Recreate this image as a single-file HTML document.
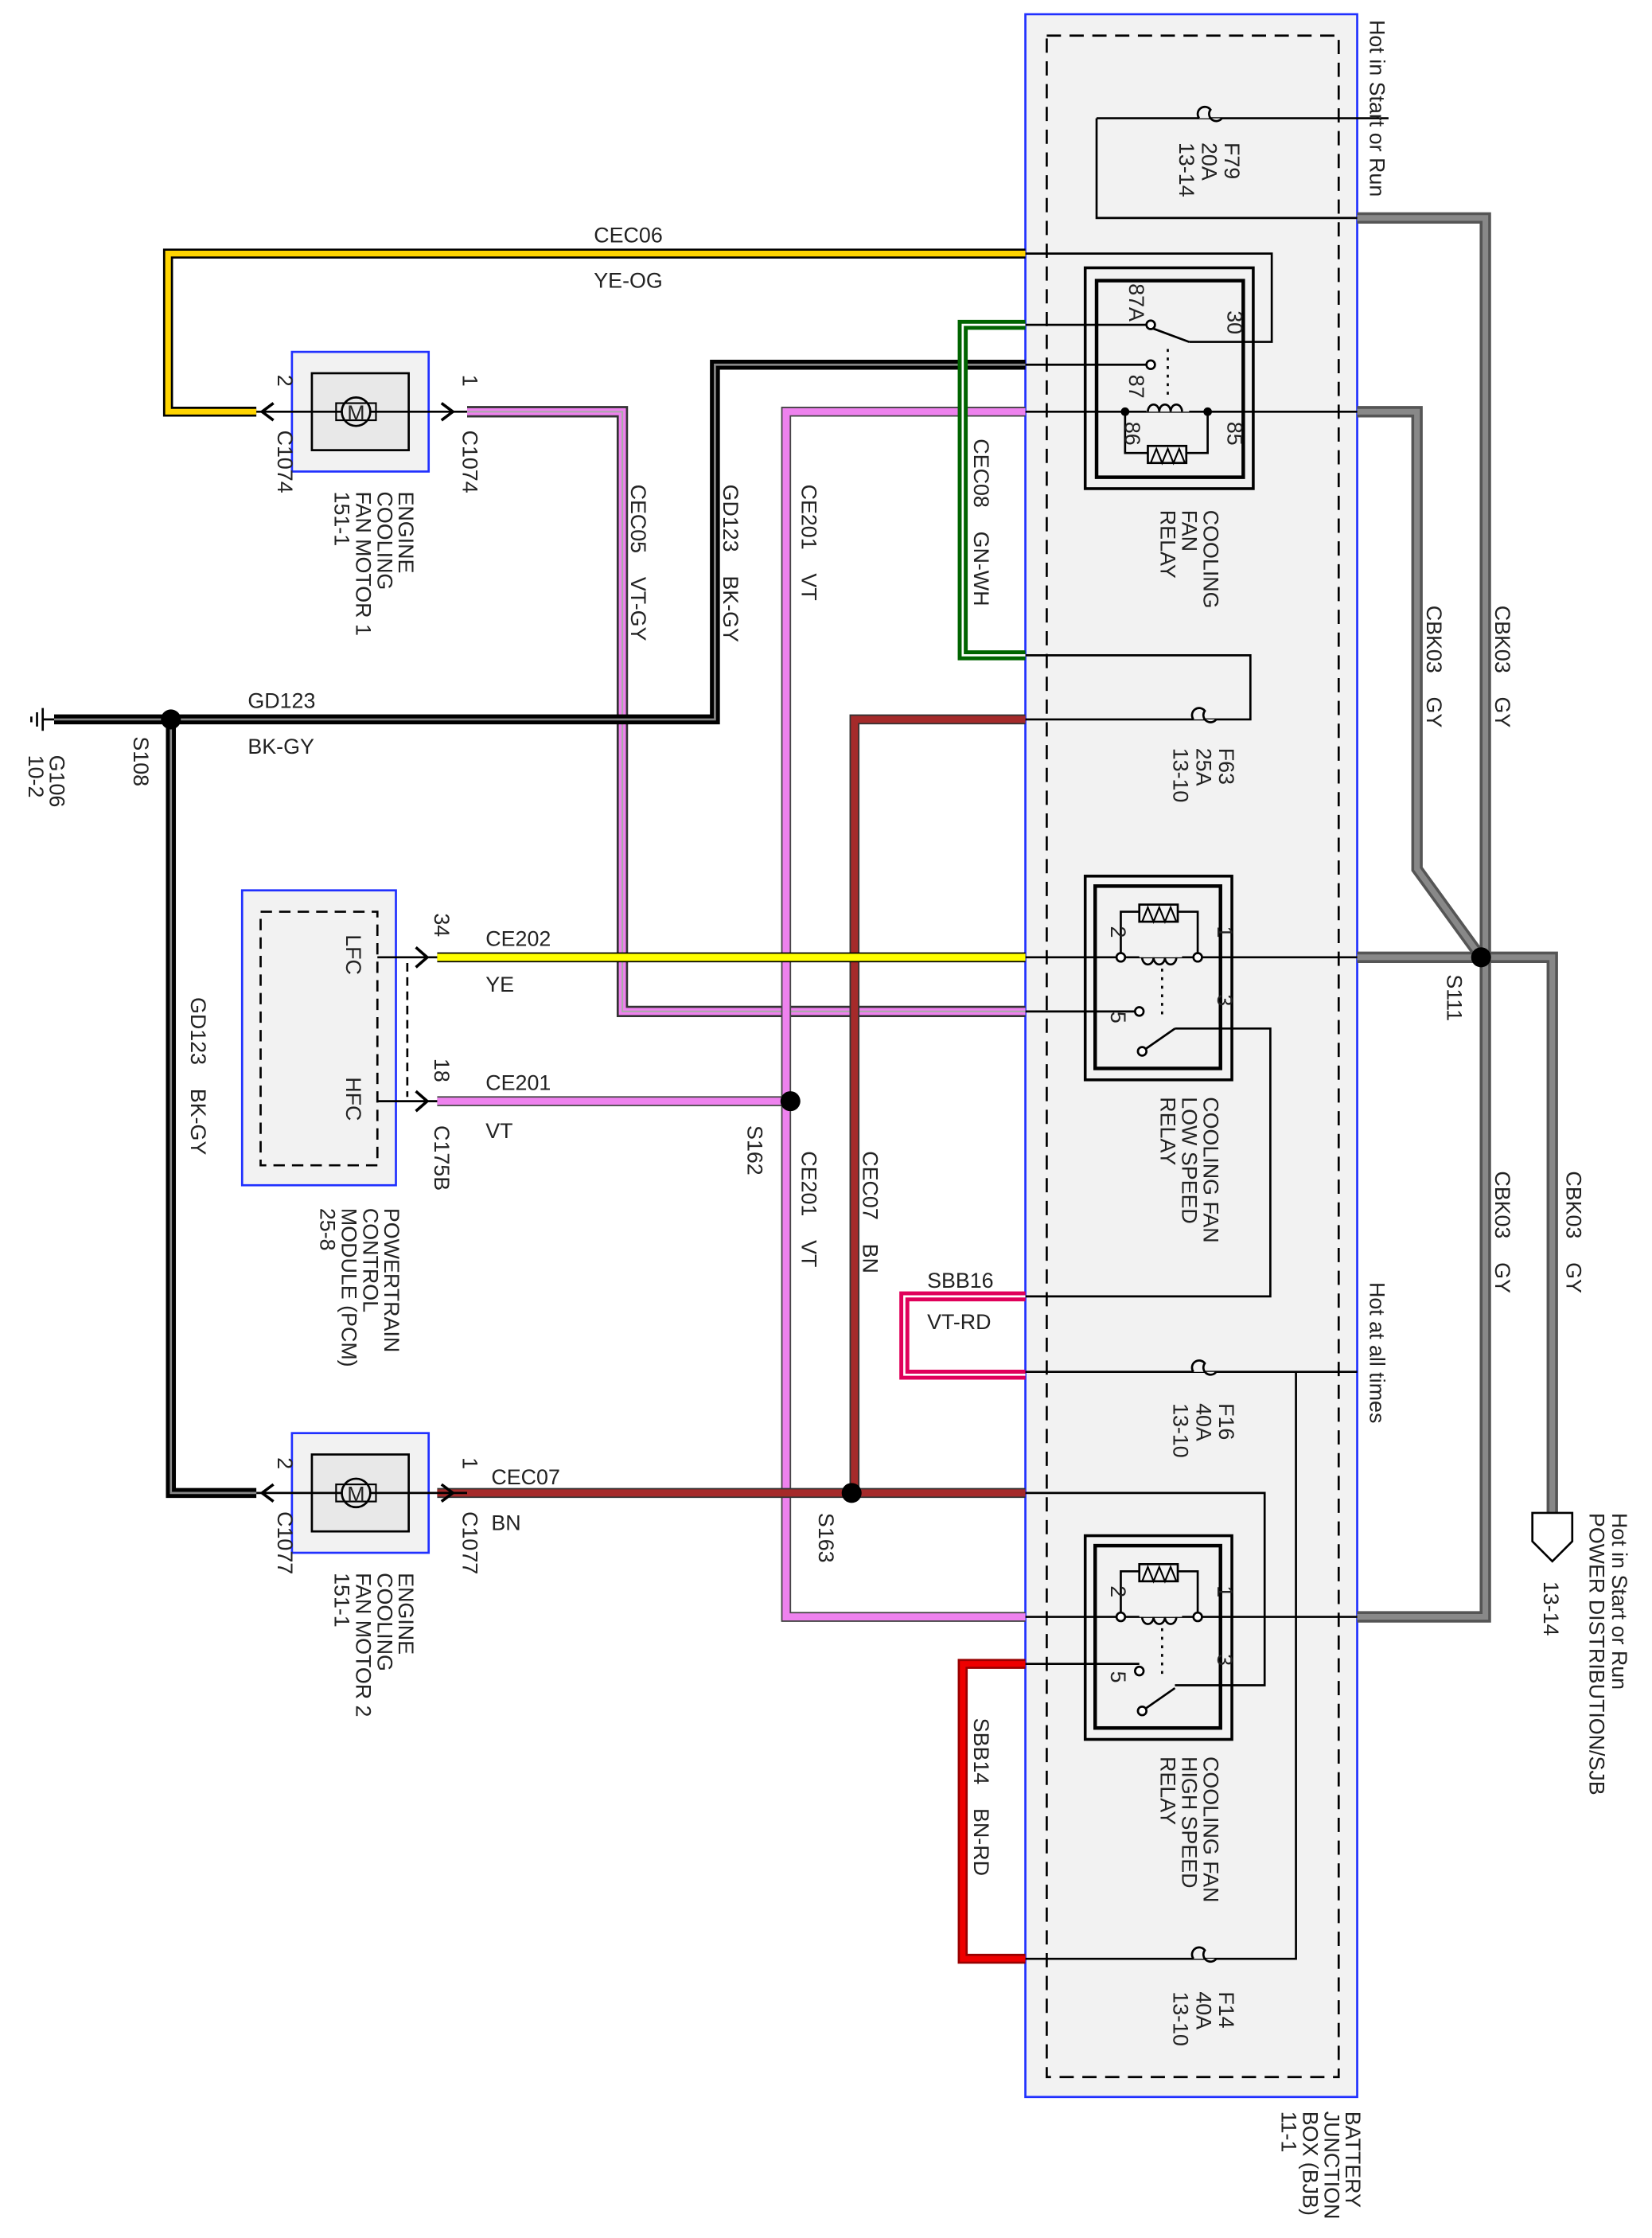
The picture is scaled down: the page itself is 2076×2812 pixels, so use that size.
<!DOCTYPE html>
<html><head><meta charset="utf-8"><style>
html,body{margin:0;padding:0;background:#fff;}
svg{display:block;}
text{font-family:"Liberation Sans",sans-serif;font-size:15px;fill:#222;white-space:pre;}
</style></head><body>
<svg width="2076" height="2812" viewBox="0 0 1160 1571" preserveAspectRatio="none" xmlns="http://www.w3.org/2000/svg">
<rect width="1160" height="1571" fill="#fff"/>
<!-- BJB box -->
<rect x="720" y="10" width="233" height="1462" fill="#f2f2f2" stroke="#2030ff" stroke-width="1.5"/>
<rect x="735" y="25" width="205" height="1433" fill="none" stroke="#000" stroke-width="1.5" stroke-dasharray="10,6"/>

<g fill="none" stroke="#555" stroke-width="8" stroke-linejoin="miter">
<polyline points="953,153 1043,153 1043,1135 953,1135"/>
<polyline points="953,289 995,289 995,610 1040,672"/>
<polyline points="953,672 1090,672 1090,1062"/>
</g>
<g fill="none" stroke="#888" stroke-width="4">
<polyline points="953,153 1043,153 1043,1135 953,1135"/>
<polyline points="953,289 995,289 995,610 1040,672"/>
<polyline points="953,672 1090,672 1090,1062"/>
</g>
<circle cx="1040" cy="672" r="7" fill="#000"/>
<path d="M1076,1062 h28 v20 l-14,14 l-14,-14z" fill="#fff" stroke="#000" stroke-width="1.5"/>

<g fill="none" stroke="#000" stroke-width="1.5">
<polyline points="770,83 953,83"/>
<line x1="953" y1="83" x2="975" y2="83"/>
<polyline points="770,83 770,153 953,153"/>
<polyline points="720,178 893,178 893,240 835,240"/>
<line x1="720" y1="228" x2="808" y2="228"/>
<line x1="720" y1="256" x2="808" y2="256"/>
<line x1="720" y1="289" x2="953" y2="289"/>
<polyline points="720,460 878,460 878,505 720,505"/>
<line x1="720" y1="672" x2="953" y2="672"/>
<line x1="720" y1="710" x2="800" y2="710"/>
<polyline points="720,910 892,910 892,722 825,722"/>
<line x1="720" y1="963" x2="953" y2="963"/>
<polyline points="720,1048 888,1048 888,1183 825,1183"/>
<line x1="720" y1="1135" x2="953" y2="1135"/>
<line x1="720" y1="1168" x2="800" y2="1168"/>
<polyline points="720,1375 910,1375 910,963"/>
</g>
<g fill="#f2f2f2" stroke="#000" stroke-width="1.5">
<path d="M842,83 a5,5 0 0 1 8,-6 a5,5 0 0 0 8,6"/>
<path d="M838,505 a5,5 0 0 1 8,-6 a5,5 0 0 0 8,6"/>
<path d="M838,963 a5,5 0 0 1 8,-6 a5,5 0 0 0 8,6"/>
<path d="M838,1375 a5,5 0 0 1 8,-6 a5,5 0 0 0 8,6"/>
</g>

<g fill="none" stroke="#000">
<rect x="762" y="188" width="118" height="155" stroke-width="2"/>
<rect x="770" y="197" width="103" height="138" stroke-width="2.5"/>
<line x1="808" y1="230" x2="835" y2="240" stroke-width="1.5"/>
<line x1="820" y1="245" x2="820" y2="278" stroke-width="1.5" stroke-dasharray="2,4"/>
<polyline points="790,289 790,318 848,318 848,289" stroke-width="1.5"/>
<rect x="806" y="313" width="27" height="12" fill="#f2f2f2" stroke-width="1.5"/>
<polyline points="808,325 812,315 816,325 820,315 824,325 828,315 832,325" stroke-width="1.2"/>
</g>
<rect x="805" y="281" width="30" height="8" fill="#f2f2f2"/>
<path d="M806,289 a4,5 0 0 1 8,0 a4,5 0 0 1 8,0 a4,5 0 0 1 8,0" fill="none" stroke="#000" stroke-width="1.5"/>
<circle cx="808" cy="228" r="3" fill="#fff" stroke="#000" stroke-width="1.5"/>
<circle cx="808" cy="256" r="3" fill="#fff" stroke="#000" stroke-width="1.5"/>
<circle cx="790" cy="289" r="3" fill="#000"/><circle cx="848" cy="289" r="3" fill="#000"/>

<g id="r2" fill="none" stroke="#000">
<rect x="762" y="615" width="103" height="143" stroke-width="2"/>
<rect x="769" y="622" width="88" height="128" stroke-width="2.5"/>
<polyline points="787,672 787,640 841,640 841,672" stroke-width="1.5"/>
<rect x="800" y="635" width="27" height="12" fill="#f2f2f2" stroke-width="1.5"/>
<polyline points="802,647 806,637 810,647 814,637 818,647 822,637 826,647" stroke-width="1.2"/>
<line x1="816" y1="680" x2="816" y2="715" stroke-width="1.5" stroke-dasharray="2,4"/>
<line x1="802" y1="738" x2="825" y2="722" stroke-width="1.5"/>
<circle cx="800" cy="710" r="3" fill="#fff" stroke-width="1.5"/>
<circle cx="802" cy="738" r="3" fill="#fff" stroke-width="1.5"/>
<circle cx="787" cy="672" r="3" fill="#fff" stroke-width="1.5"/>
<circle cx="841" cy="672" r="3" fill="#fff" stroke-width="1.5"/>
<rect x="800" y="665" width="30" height="7" fill="#f2f2f2" stroke="none"/>
<path d="M802,672 a4,5 0 0 0 8,0 a4,5 0 0 0 8,0 a4,5 0 0 0 8,0" stroke-width="1.5"/>
</g>
<use href="#r2" transform="translate(0,463)"/>

<g fill="none" stroke-linejoin="miter">
<polyline points="720,178 118,178 118,289 180,289" stroke="#000" stroke-width="7"/>
<polyline points="720,178 118,178 118,289 180,289" stroke="#ffd400" stroke-width="4"/>
<polyline points="328,289 437,289 437,710 720,710" stroke="#333" stroke-width="8"/>
<polyline points="328,289 437,289 437,710 720,710" stroke="#ee82ee" stroke-width="5"/>
<polyline points="328,289 437,289 437,710 720,710" stroke="#aaa" stroke-width="1.2"/>
<polyline points="720,256 502,256 502,505 38,505" stroke="#000" stroke-width="7"/>
<polyline points="720,256 502,256 502,505 38,505" stroke="#888" stroke-width="1.5"/>
<polyline points="120,505 120,1048 180,1048" stroke="#000" stroke-width="7"/>
<polyline points="120,505 120,1048 180,1048" stroke="#888" stroke-width="1.5"/>
<polyline points="720,289 552,289 552,1135 720,1135" stroke="#444" stroke-width="7"/>
<polyline points="720,289 552,289 552,1135 720,1135" stroke="#ee82ee" stroke-width="5"/>
<line x1="307" y1="773" x2="555" y2="773" stroke="#444" stroke-width="7"/>
<line x1="307" y1="773" x2="555" y2="773" stroke="#ee82ee" stroke-width="5"/>
<polyline points="720,228 676,228 676,460 720,460" stroke="#006400" stroke-width="7"/>
<polyline points="720,228 676,228 676,460 720,460" stroke="#fff" stroke-width="1.5"/>
<polyline points="720,505 600,505 600,1048" stroke="#333" stroke-width="7"/>
<polyline points="720,505 600,505 600,1048" stroke="#a52a2a" stroke-width="5"/>
<line x1="307" y1="1048" x2="720" y2="1048" stroke="#333" stroke-width="7"/>
<line x1="307" y1="1048" x2="720" y2="1048" stroke="#a52a2a" stroke-width="5"/>
<line x1="307" y1="672" x2="720" y2="672" stroke="#000" stroke-width="7"/>
<line x1="307" y1="672" x2="720" y2="672" stroke="#ffff00" stroke-width="5"/>
<polyline points="720,910 635,910 635,965 720,965" stroke="#e0005a" stroke-width="7"/>
<polyline points="720,910 635,910 635,965 720,965" stroke="#fff" stroke-width="1.5"/>
<polyline points="720,1168 676,1168 676,1375 720,1375" stroke="#900" stroke-width="7"/>
<polyline points="720,1168 676,1168 676,1375 720,1375" stroke="#e00" stroke-width="4"/>
</g>
<circle cx="120" cy="505" r="7" fill="#000"/>
<circle cx="555" cy="773" r="7" fill="#000"/>
<circle cx="598" cy="1048" r="7" fill="#000"/>
<g stroke="#000" stroke-width="1.5"><line x1="30" y1="505" x2="38" y2="505"/><line x1="30" y1="497" x2="30" y2="513"/><line x1="26" y1="500" x2="26" y2="510"/><line x1="22" y1="503" x2="22" y2="507"/></g>

<g id="mot">
<rect x="205" y="247" width="96" height="84" fill="#f2f2f2" stroke="#2030ff" stroke-width="1.5"/>
<rect x="219" y="262" width="68" height="54" fill="#e8e8e8" stroke="#000" stroke-width="1.5"/>
<line x1="180" y1="289" x2="328" y2="289" stroke="#000" stroke-width="1.5"/>
<circle cx="250" cy="289" r="10" fill="#e8e8e8" stroke="#000" stroke-width="1.5"/>
<rect x="236" y="283" width="28" height="12" fill="none" stroke="#000" stroke-width="1.2"/>
<text x="250" y="295" text-anchor="middle" font-size="13">M</text>
<path d="M192,283 l-8,6 l8,6 M310,283 l8,6 l-8,6" fill="none" stroke="#000" stroke-width="2"/>
</g>
<use href="#mot" transform="translate(0,759)"/>

<rect x="170" y="625" width="108" height="207" fill="#f2f2f2" stroke="#2030ff" stroke-width="1.5"/>
<rect x="183" y="640" width="82" height="178" fill="none" stroke="#000" stroke-width="1.5" stroke-dasharray="8,5"/>
<g stroke="#000" stroke-width="1.5" fill="none">
<line x1="265" y1="672" x2="307" y2="672"/><line x1="265" y1="773" x2="307" y2="773"/>
<line x1="286" y1="676" x2="286" y2="770" stroke-dasharray="6,4"/>
<path d="M292,665 l8,7 l-8,7 M292,766 l8,7 l-8,7" stroke-width="2"/>
</g>

<text x="417" y="170">CEC06</text><text x="417" y="202">YE-OG</text>
<text x="174" y="497">GD123</text><text x="174" y="529">BK-GY</text>
<text x="341" y="664">CE202</text><text x="341" y="696">YE</text>
<text x="341" y="765">CE201</text><text x="341" y="799">VT</text>
<text x="345" y="1042">CEC07</text><text x="345" y="1074">BN</text>
<text x="651" y="904">SBB16</text><text x="651" y="933">VT-RD</text>

<g font-size="15">
<text transform="translate(962,14) rotate(90)">Hot in Start or Run</text>
<text transform="translate(962,900) rotate(90)">Hot at all times</text>
<text transform="translate(860,100) rotate(90)">F79</text>
<text transform="translate(844,100) rotate(90)">20A</text>
<text transform="translate(828,100) rotate(90)">13-14</text>
<text transform="translate(856,525) rotate(90)">F63</text>
<text transform="translate(840,525) rotate(90)">25A</text>
<text transform="translate(824,525) rotate(90)">13-10</text>
<text transform="translate(856,985) rotate(90)">F16</text>
<text transform="translate(840,985) rotate(90)">40A</text>
<text transform="translate(824,985) rotate(90)">13-10</text>
<text transform="translate(856,1398) rotate(90)">F14</text>
<text transform="translate(840,1398) rotate(90)">40A</text>
<text transform="translate(824,1398) rotate(90)">13-10</text>
<text transform="translate(845,358) rotate(90)">COOLING</text>
<text transform="translate(830,358) rotate(90)">FAN</text>
<text transform="translate(815,358) rotate(90)">RELAY</text>
<text transform="translate(845,770) rotate(90)">COOLING FAN</text>
<text transform="translate(830,770) rotate(90)">LOW SPEED</text>
<text transform="translate(815,770) rotate(90)">RELAY</text>
<text transform="translate(845,1233) rotate(90)">COOLING FAN</text>
<text transform="translate(830,1233) rotate(90)">HIGH SPEED</text>
<text transform="translate(815,1233) rotate(90)">RELAY</text>
<text transform="translate(1050,425) rotate(90)">CBK03    GY</text>
<text transform="translate(1002,425) rotate(90)">CBK03    GY</text>
<text transform="translate(1050,822) rotate(90)">CBK03    GY</text>
<text transform="translate(1100,822) rotate(90)">CBK03    GY</text>
<text transform="translate(1016,684) rotate(90)">S111</text>
<text transform="translate(1132,1062) rotate(90)">Hot in Start or Run</text>
<text transform="translate(1116,1062) rotate(90)">POWER DISTRIBUTION/SJB</text>
<text transform="translate(1084,1110) rotate(90)">13-14</text>
<text transform="translate(945,1482) rotate(90)">BATTERY</text>
<text transform="translate(930,1482) rotate(90)">JUNCTION</text>
<text transform="translate(915,1482) rotate(90)">BOX (BJB)</text>
<text transform="translate(900,1482) rotate(90)">11-1</text>
<text transform="translate(684,308) rotate(90)">CEC08    GN-WH</text>
<text transform="translate(563,340) rotate(90)">CE201    VT</text>
<text transform="translate(508,340) rotate(90)">GD123    BK-GY</text>
<text transform="translate(443,340) rotate(90)">CEC05    VT-GY</text>
<text transform="translate(563,808) rotate(90)">CE201    VT</text>
<text transform="translate(606,808) rotate(90)">CEC07    BN</text>
<text transform="translate(684,1206) rotate(90)">SBB14    BN-RD</text>
<text transform="translate(525,790) rotate(90)">S162</text>
<text transform="translate(575,1062) rotate(90)">S163</text>
<text transform="translate(94,517) rotate(90)">S108</text>
<text transform="translate(134,700) rotate(90)">GD123    BK-GY</text>
<text transform="translate(35,530) rotate(90)">G106</text>
<text transform="translate(20,530) rotate(90)">10-2</text>
<text transform="translate(280,345) rotate(90)">ENGINE</text>
<text transform="translate(265,345) rotate(90)">COOLING</text>
<text transform="translate(250,345) rotate(90)">FAN MOTOR 1</text>
<text transform="translate(235,345) rotate(90)">151-1</text>
<text transform="translate(280,1104) rotate(90)">ENGINE</text>
<text transform="translate(265,1104) rotate(90)">COOLING</text>
<text transform="translate(250,1104) rotate(90)">FAN MOTOR 2</text>
<text transform="translate(235,1104) rotate(90)">151-1</text>
<text transform="translate(270,848) rotate(90)">POWERTRAIN</text>
<text transform="translate(255,848) rotate(90)">CONTROL</text>
<text transform="translate(240,848) rotate(90)">MODULE (PCM)</text>
<text transform="translate(225,848) rotate(90)">25-8</text>
<text transform="translate(243,656) rotate(90)">LFC</text>
<text transform="translate(243,756) rotate(90)">HFC</text>
<text transform="translate(305,641) rotate(90)">34</text>
<text transform="translate(305,743) rotate(90)">18</text>
<text transform="translate(305,790) rotate(90)">C175B</text>
<text transform="translate(195,263) rotate(90)">2</text>
<text transform="translate(325,263) rotate(90)">1</text>
<text transform="translate(195,302) rotate(90)">C1074</text>
<text transform="translate(325,302) rotate(90)">C1074</text>
<text transform="translate(195,1023) rotate(90)">2</text>
<text transform="translate(325,1023) rotate(90)">1</text>
<text transform="translate(195,1061) rotate(90)">C1077</text>
<text transform="translate(325,1061) rotate(90)">C1077</text>
<text transform="translate(793,199) rotate(90)">87A</text>
<text transform="translate(862,218) rotate(90)">30</text>
<text transform="translate(793,263) rotate(90)">87</text>
<text transform="translate(790,296) rotate(90)">86</text>
<text transform="translate(862,296) rotate(90)">85</text>
<text transform="translate(780,650) rotate(90)">2</text>
<text transform="translate(855,650) rotate(90)">1</text>
<text transform="translate(855,698) rotate(90)">3</text>
<text transform="translate(780,710) rotate(90)">5</text>
<text transform="translate(780,1113) rotate(90)">2</text>
<text transform="translate(855,1113) rotate(90)">1</text>
<text transform="translate(855,1161) rotate(90)">3</text>
<text transform="translate(780,1173) rotate(90)">5</text>
</g>
</svg>
</body></html>
